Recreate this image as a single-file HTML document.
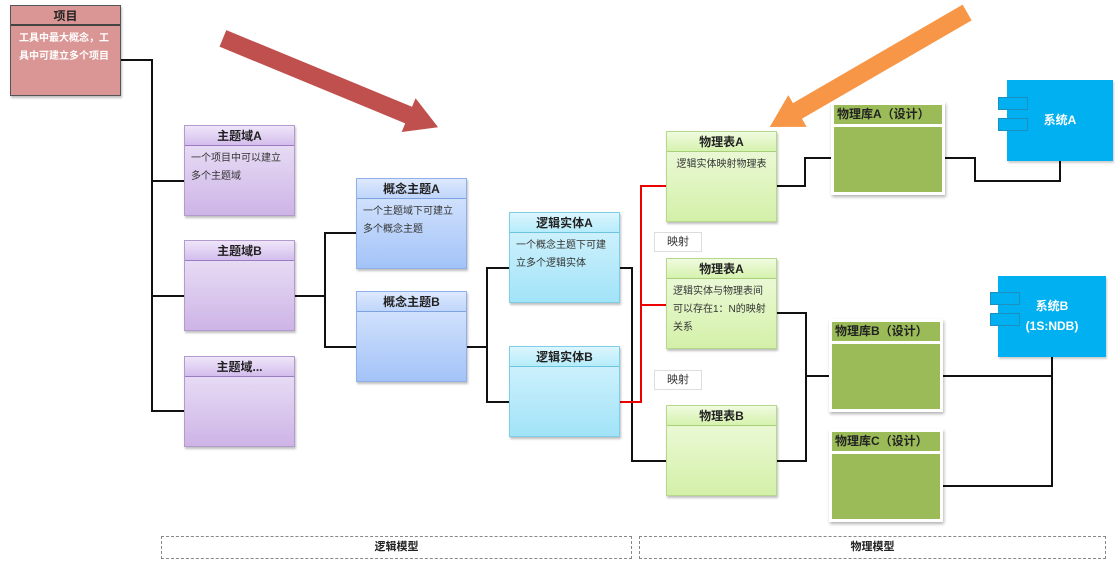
<!DOCTYPE html>
<html><head><meta charset="utf-8"><style>
body{margin:0;width:1120px;height:565px;background:#fff;position:relative;overflow:hidden;font-family:"Liberation Sans","Noto Sans CJK SC",sans-serif;}
.b{position:absolute;box-sizing:border-box;border:1px solid;box-shadow:1px 2px 2px rgba(0,0,0,.25);}
.h{height:20px;line-height:20px;text-align:center;font-weight:bold;font-size:12px;color:#222;box-sizing:border-box;border-bottom:1px solid;}
.t{font-size:10px;color:#333;padding:4px 6px;line-height:18px;}
.pu{border-color:#b39bd0;background:linear-gradient(#eee6f8,#cdb4e6);}
.pu .h{background:linear-gradient(#efe6fa,#d4bdec);border-color:#9c7cc0;}
.bl{border-color:#8fb0e8;background:linear-gradient(#dce9fd,#a3c3f8);}
.bl .h{background:linear-gradient(#dde9fd,#c0d6fb);border-color:#7ea3e0;}
.cy{border-color:#7fcde6;background:linear-gradient(#d8f4fd,#a2e3f8);}
.cy .h{background:linear-gradient(#dcf6fe,#b6ecfb);border-color:#6cc2df;}
.gr{border-color:#b5d88a;background:linear-gradient(#f0fbe2,#d4f0a8);}
.gr .h{background:linear-gradient(#f0fbe0,#d6f2ae);border-color:#a8cf7a;}
.db{position:absolute;box-sizing:border-box;background:#9bbb59;border:3px solid #fff;box-shadow:1px 2px 3px rgba(0,0,0,.3);}
.db .h{background:#9bbb59;text-align:left;padding-left:3px;border-bottom:3px solid #fff;height:22px;line-height:19px;}
.sys{position:absolute;background:#00b0f0;color:#fff;font-weight:bold;font-size:12px;text-align:center;box-shadow:1px 2px 2px rgba(0,0,0,.2);}
.tab{position:absolute;width:30px;height:13px;background:#00b0f0;border:1px solid #1a8fc0;box-sizing:border-box;z-index:2;}
.lab{position:absolute;border:1px solid #ddd;background:#fff;font-size:11px;color:#333;text-align:center;line-height:19px;width:48px;height:20px;box-sizing:border-box;}
.dash{position:absolute;border:1px dashed #888;box-sizing:border-box;height:23px;top:536px;text-align:center;font-weight:bold;font-size:11px;line-height:21px;color:#222;}
</style></head><body>
<svg width="1120" height="565" style="position:absolute;left:0;top:0">
<g fill="none" stroke="#111" stroke-width="2">
<polyline points="120,60 152,60 152,411 184,411"/>
<line x1="152" y1="181" x2="184" y2="181"/><line x1="152" y1="296" x2="184" y2="296"/>
<polyline points="295,296 325,296"/>
<polyline points="356,233 325,233 325,347 356,347"/>
<line x1="467" y1="347" x2="487" y2="347"/>
<polyline points="509,268 487,268 487,402 509,402"/>
<polyline points="620,268 632,268 632,461 666,461"/>
<polyline points="776,186 805,186 805,158 833,158"/>
<polyline points="776,313 806,313 806,461 776,461"/>
<line x1="806" y1="376" x2="831" y2="376"/>
<polyline points="943,158 975,158 975,181 1060,181 1060,161"/>
<polyline points="941,376 1052,376"/>
<polyline points="941,486 1052,486 1052,357"/>
</g>
<g fill="none" stroke="#e00" stroke-width="2">
<polyline points="620,402 641,402 641,186 666,186"/><line x1="641" y1="305" x2="666" y2="305"/>
</g>
<polygon points="218.2,47.2 403.9,123.9 400.1,133.2 440,128 415.3,96.2 411.5,105.5 225.8,28.8" fill="#c0504d" stroke="#fff" stroke-width="2"/>
<polygon points="963,3.3 793.3,101.7 788.3,93.1 768,128 808.3,127.7 803.3,119.1 973,20.7" fill="#f79646" stroke="#fff" stroke-width="2"/>
</svg>
<div class="b" style="left:10px;top:5px;width:111px;height:91px;background:#d99694;border-color:#555"><div class="h" style="background:#d99694;border-color:#444;border-bottom-width:2px">项目</div><div class="t" style="color:#fff;font-weight:bold;padding:4px 8px">工具中最大概念，工具中可建立多个项目</div></div>
<div class="b pu" style="left:184px;top:125px;width:111px;height:91px"><div class="h">主题域A</div><div class="t">一个项目中可以建立多个主题域</div></div>
<div class="b pu" style="left:184px;top:240px;width:111px;height:91px"><div class="h">主题域B</div></div>
<div class="b pu" style="left:184px;top:356px;width:111px;height:91px"><div class="h">主题域...</div></div>
<div class="b bl" style="left:356px;top:178px;width:111px;height:91px"><div class="h">概念主题A</div><div class="t">一个主题域下可建立多个概念主题</div></div>
<div class="b bl" style="left:356px;top:291px;width:111px;height:91px"><div class="h">概念主题B</div></div>
<div class="b cy" style="left:509px;top:212px;width:111px;height:91px"><div class="h">逻辑实体A</div><div class="t">一个概念主题下可建立多个逻辑实体</div></div>
<div class="b cy" style="left:509px;top:346px;width:111px;height:91px"><div class="h">逻辑实体B</div></div>
<div class="b gr" style="left:666px;top:131px;width:111px;height:91px"><div class="h">物理表A</div><div class="t" style="text-align:center">逻辑实体映射物理表</div></div>
<div class="b gr" style="left:666px;top:258px;width:111px;height:91px"><div class="h">物理表A</div><div class="t" style="padding-right:10px">逻辑实体与物理表间可以存在1：N的映射关系</div></div>
<div class="b gr" style="left:666px;top:405px;width:111px;height:91px"><div class="h">物理表B</div></div>
<div class="lab" style="left:654px;top:232px">映射</div>
<div class="lab" style="left:654px;top:370px">映射</div>
<div class="db" style="left:831px;top:102px;width:114px;height:93px"><div class="h">物理库A（设计）</div></div>
<div class="db" style="left:829px;top:319px;width:114px;height:93px"><div class="h">物理库B（设计）</div></div>
<div class="db" style="left:829px;top:429px;width:114px;height:93px"><div class="h">物理库C（设计）</div></div>
<div class="sys" style="left:1007px;top:80px;width:106px;height:81px;line-height:81px">系统A</div>
<div class="tab" style="left:998px;top:97px"></div><div class="tab" style="left:998px;top:118px"></div>
<div class="sys" style="left:998px;top:276px;width:108px;height:81px;line-height:20px;padding-top:20px;box-sizing:border-box">系统B<br>(1S:NDB)</div>
<div class="tab" style="left:990px;top:292px"></div><div class="tab" style="left:990px;top:313px"></div>
<div class="dash" style="left:161px;width:471px">逻辑模型</div>
<div class="dash" style="left:639px;width:467px">物理模型</div>
</body></html>
